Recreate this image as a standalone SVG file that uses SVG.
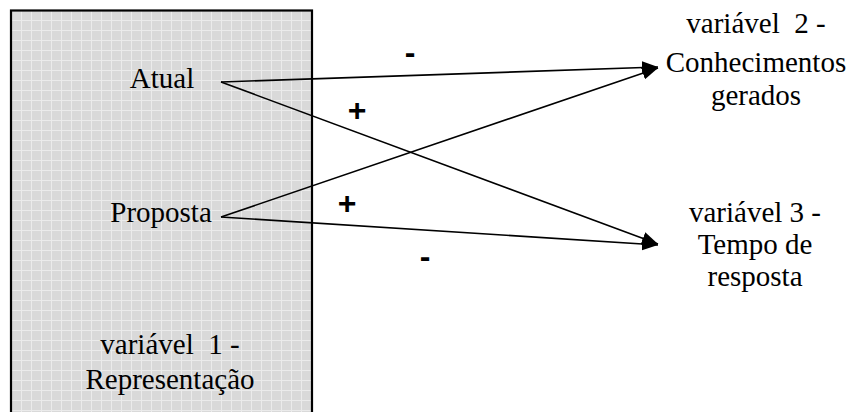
<svg xmlns="http://www.w3.org/2000/svg" width="852" height="412" viewBox="0 0 852 412">
<style>
.c{stroke:#000;stroke-width:1.6;fill:none}
</style>
<defs>
<pattern id="grid" x="11" y="10" width="10" height="10" patternUnits="userSpaceOnUse">
<rect width="10" height="10" fill="#d9d9d9"/>
<path d="M0 0.5H10M0.5 0V10" stroke="#ebebeb" stroke-width="1"/>
</pattern>
<marker id="ah" markerWidth="16" markerHeight="13" refX="16" refY="6.5" orient="auto" markerUnits="userSpaceOnUse">
<path d="M0 0L16 6.5L0 13Z" fill="#000"/>
</marker>
</defs>
<g id="box">
<rect x="11" y="10.5" width="301" height="412" fill="url(#grid)" stroke="#000" stroke-width="2.2"/>
</g>
<g id="connectors">
<line class="c" x1="221" y1="82" x2="658" y2="67" marker-end="url(#ah)"/>
<line class="c" x1="221" y1="82" x2="658" y2="244" marker-end="url(#ah)"/>
<line class="c" x1="221" y1="217" x2="658" y2="68" marker-end="url(#ah)"/>
<line class="c" x1="221" y1="217" x2="658" y2="245" marker-end="url(#ah)"/>
<g font-family="Liberation Sans, Arial, sans-serif" font-size="32" font-weight="bold" text-anchor="middle" fill="#000">
<text x="410" y="63">-</text>
<text x="357" y="121">+</text>
<text x="347" y="214">+</text>
<text x="425" y="267">-</text>
</g>
</g>
<g font-family="Liberation Serif, Times New Roman, serif" font-size="29" text-anchor="middle" fill="#000">
<g id="atual"><text x="162" y="88">Atual</text></g>
<g id="proposta"><text x="161" y="222">Proposta</text></g>
<g id="var1"><text x="170" y="354" xml:space="preserve">variável  1 -</text><text x="170" y="389">Representação</text></g>
<g id="var2"><text x="756" y="33" xml:space="preserve">variável  2 -</text><text x="756" y="72">Conhecimentos</text><text x="756" y="105">gerados</text></g>
<g id="var3"><text x="755" y="222">variável 3 -</text><text x="755" y="254">Tempo de</text><text x="755" y="286">resposta</text></g>
</g>
</svg>
